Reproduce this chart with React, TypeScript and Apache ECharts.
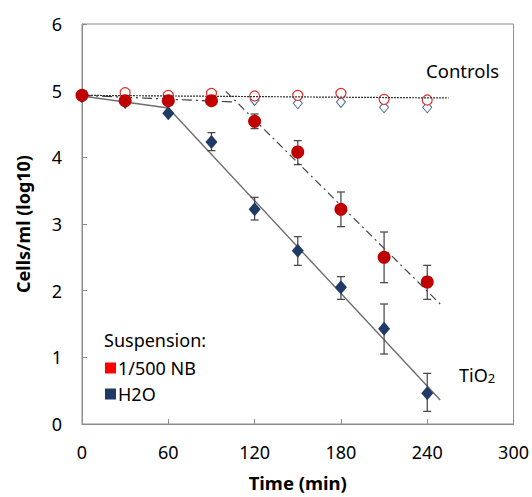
import React, { useEffect, useRef } from "react";
import * as echarts from "echarts";

const times = [0, 30, 60, 90, 120, 150, 180, 210, 240];
const nbMean = [4.93, 4.85, 4.85, 4.85, 4.54, 4.08, 3.22, 2.5, 2.13];
const nbLow = [4.93, 4.85, 4.85, 4.85, 4.43, 3.89, 2.96, 2.12, 1.87];
const nbHigh = [4.93, 4.85, 4.85, 4.85, 4.65, 4.25, 3.48, 2.88, 2.38];
const h2oMean = [4.92, 4.83, 4.66, 4.23, 3.22, 2.6, 2.05, 1.43, 0.46];
const h2oLow = [4.92, 4.83, 4.66, 4.1, 3.06, 2.38, 1.87, 1.05, 0.19];
const h2oHigh = [4.92, 4.83, 4.66, 4.37, 3.4, 2.81, 2.21, 1.8, 0.76];
const nbCtrl = [4.92, 4.97, 4.93, 4.96, 4.92, 4.93, 4.96, 4.87, 4.86];
const h2oCtrl = [4.92, 4.88, 4.88, 4.88, 4.86, 4.81, 4.83, 4.75, 4.75];

const ctrlTrend = [[0, 4.93], [255, 4.89]];
const h2oTrend = [[0, 4.92], [60, 4.74], [249, 0.36]];
const nbTrendA = [[0, 4.93], [105, 4.83]];
const nbTrendB = [[100, 4.99], [249, 1.8]];

const xTicks = [0, 60, 120, 180, 240, 300];
const yTicks = [0, 1, 2, 3, 4, 5, 6];

const RED = "#C00000";
const NAVY = "#1F3A64";
const FONT = "Noto Sans";

const zip = (a: number[], b: number[]) => a.map((v, i) => [v, b[i]]);
const errData = (lo: number[], hi: number[]) =>
  times.map((t, i) => [t, lo[i], hi[i]]).filter((d) => d[2] - d[1] > 0.001);

const errRender = (params: any, api: any) => {
  const x = api.value(0);
  const p1 = api.coord([x, api.value(1)]);
  const p2 = api.coord([x, api.value(2)]);
  const w = 4;
  const style = { stroke: "#404040", lineWidth: 1.2 };
  return {
    type: "group",
    children: [
      { type: "line", shape: { x1: p1[0], y1: p1[1], x2: p2[0], y2: p2[1] }, style },
      { type: "line", shape: { x1: p1[0] - w, y1: p1[1], x2: p1[0] + w, y2: p1[1] }, style },
      { type: "line", shape: { x1: p2[0] - w, y1: p2[1], x2: p2[0] + w, y2: p2[1] }, style },
    ],
  };
};

export default function App() {
  const ref = useRef<HTMLDivElement>(null);
  useEffect(() => {
    if (!ref.current) return;
    const chart = echarts.init(ref.current, undefined, { renderer: "svg" });
    chart.setOption({
      animation: false,
      textStyle: { fontFamily: FONT },
      grid: { left: 82, right: 17, top: 24, bottom: 69, show: true, borderColor: "#8c8c8c", borderWidth: 1 },
      xAxis: {
        type: "value",
        min: xTicks[0],
        max: xTicks[xTicks.length - 1],
        interval: 60,
        name: "Time (min)",
        nameLocation: "middle",
        nameGap: 49,
        nameTextStyle: { fontFamily: FONT, fontSize: 18.5, fontWeight: "bold", color: "#000" },
        axisLine: { lineStyle: { color: "#8c8c8c" } },
        axisTick: { inside: true, length: 5, lineStyle: { color: "#8c8c8c" } },
        axisLabel: { margin: 19, fontFamily: FONT, fontSize: 18, color: "#000" },
        splitLine: { show: false },
      },
      yAxis: {
        type: "value",
        min: yTicks[0],
        max: yTicks[yTicks.length - 1],
        interval: 1,
        name: "Cells/ml (log10)",
        nameLocation: "middle",
        nameGap: 50,
        nameTextStyle: { fontFamily: FONT, fontSize: 18, fontWeight: "bold", color: "#000" },
        axisLine: { show: true, lineStyle: { color: "#8c8c8c" } },
        axisTick: { show: true, inside: true, length: 5, lineStyle: { color: "#8c8c8c" } },
        axisLabel: { margin: 20, fontFamily: FONT, fontSize: 18, color: "#000" },
        splitLine: { show: false },
      },
      legend: {
        orient: "vertical",
        left: 100,
        top: 354,
        itemWidth: 11,
        itemHeight: 11,
        itemGap: 8,
        selectedMode: false,
        textStyle: { fontFamily: FONT, fontSize: 18, color: "#000", padding: [0, 0, 0, -3] },
        data: [
          { name: "1/500 NB", icon: "rect", itemStyle: { color: "#FF0000", opacity: 1 } },
          { name: "H2O", icon: "rect", itemStyle: { color: NAVY, opacity: 1 } },
        ],
      },
      graphic: [
        { type: "text", left: 104, top: 331, style: { text: "Suspension:", font: `18px '${FONT}'`, fill: "#000" } },
        { type: "text", left: 426, top: 61, style: { text: "Controls", font: `18.5px '${FONT}'`, fill: "#000" } },
        {
          type: "text",
          left: 459,
          top: 366,
          style: {
            text: "{a|TiO}{b|2}",
            rich: {
              a: { fontFamily: FONT, fontSize: 18, fill: "#000", color: "#000" },
              b: { fontFamily: FONT, fontSize: 13, fill: "#000", color: "#000", padding: [6, 0, 0, 0] },
            },
          },
        },
      ],
      series: [
        {
          name: "Control H2O",
          type: "scatter",
          symbol: "diamond",
          symbolSize: [9, 11],
          itemStyle: { color: "#fff", borderColor: "#4a6a98", borderWidth: 1, opacity: 1 },
          data: zip(times, h2oCtrl),
          z: 2,
        },
        {
          name: "Control NB",
          type: "scatter",
          symbol: "circle",
          symbolSize: 10,
          itemStyle: { color: "#fff", borderColor: "#E03030", borderWidth: 1.2, opacity: 1 },
          data: zip(times, nbCtrl),
          z: 3,
        },
        {
          type: "line",
          data: ctrlTrend,
          symbol: "none",
          lineStyle: { color: "#333", width: 1.2, type: [2, 1] },
          z: 4,
        },
        {
          type: "line",
          data: h2oTrend,
          symbol: "none",
          lineStyle: { color: "#6e6e6e", width: 1.4 },
          z: 4,
        },
        {
          type: "line",
          data: nbTrendA,
          symbol: "none",
          lineStyle: { color: "#333", width: 1.2, type: [10, 4, 2, 4] },
          z: 4,
        },
        {
          type: "line",
          data: nbTrendB,
          symbol: "none",
          lineStyle: { color: "#444", width: 1.2, type: [8, 4, 2, 4] },
          z: 4,
        },
        {
          type: "custom",
          renderItem: errRender,
          encode: { x: 0, y: [1, 2] },
          data: errData(h2oLow, h2oHigh),
          z: 5,
        },
        {
          type: "custom",
          renderItem: errRender,
          encode: { x: 0, y: [1, 2] },
          data: errData(nbLow, nbHigh),
          z: 5,
        },
        {
          name: "H2O",
          type: "scatter",
          symbol: "diamond",
          symbolSize: [12, 14],
          itemStyle: { color: NAVY, opacity: 1 },
          data: zip(times, h2oMean),
          z: 6,
        },
        {
          name: "1/500 NB",
          type: "scatter",
          symbol: "circle",
          symbolSize: 13,
          itemStyle: { color: RED, opacity: 1 },
          data: zip(times, nbMean),
          z: 7,
        },
      ],
    });
    return () => chart.dispose();
  }, []);
  return <div ref={ref} style={{ position: "absolute", left: 0, top: 0, width: 532, height: 497 }} />;
}
